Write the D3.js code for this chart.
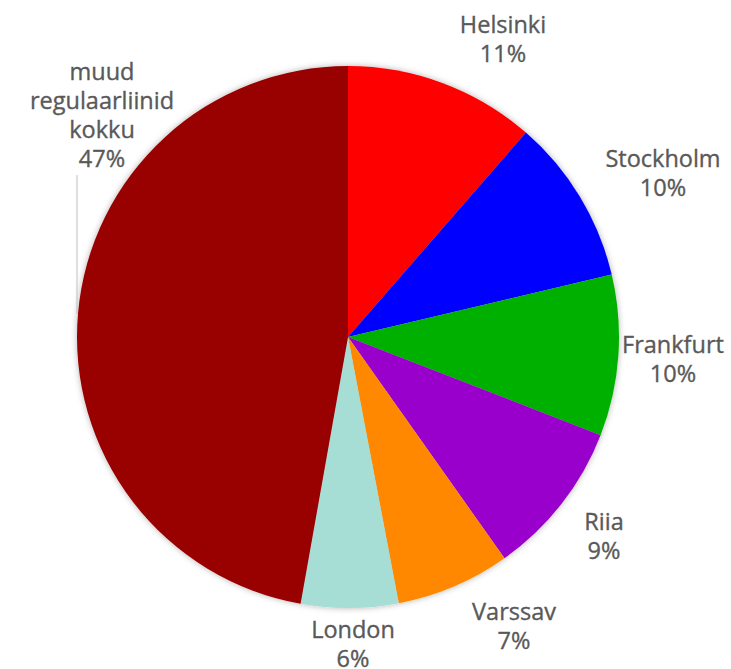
<!DOCTYPE html>
<html>
<head>
<meta charset="utf-8">
<script src="https://cdn.jsdelivr.net/npm/d3@7"></script>
<style>
  body { margin: 0; background: #fff; }
  svg text { font-family: "Open Sans", sans-serif; font-size: 23.5px; fill: #595959; stroke: #595959; stroke-width: 0.35px; }
</style>
</head>
<body>
<svg id="chart" width="731" height="669"></svg>
<script>
// slices clockwise from 12 o'clock
var cities = ["Helsinki", "Stockholm", "Frankfurt", "Riia", "Varssav", "London", "muud regulaarliinid kokku"];
var shares = [11.4, 9.9, 9.6, 9.3, 6.8, 5.8, 47.2];
var colors = ["#ff0000", "#0000ff", "#00b000", "#9900cc", "#ff8800", "#a6ddd5", "#990000"];

// label lines and where they sit
var labelLines = [["Helsinki"], ["Stockholm"], ["Frankfurt"], ["Riia"], ["Varssav"], ["London"], ["muud", "regulaarliinid", "kokku"]];
var labelPos = [[503, 33], [663, 167], [673, 353], [604, 530], [514, 620], [353, 638], [102, 80]];

var svg = d3.select("#chart");
var cx = 348, cy = 337, r = 271;

var defs = svg.append("defs");
defs.append("filter")
    .attr("id", "shadow")
    .attr("x", "-10%").attr("y", "-10%")
    .attr("width", "120%").attr("height", "120%")
  .append("feDropShadow")
    .attr("dx", 0).attr("dy", 0)
    .attr("stdDeviation", 3)
    .attr("flood-color", "#000")
    .attr("flood-opacity", 0.3);

var pie = d3.pie().sort(null).value(function(d){ return d; });
var arc = d3.arc().innerRadius(0).outerRadius(r);

var g = svg.append("g")
    .attr("transform", "translate(" + cx + "," + cy + ")")
    .attr("filter", "url(#shadow)");

g.selectAll("path")
    .data(pie(shares))
    .enter()
    .append("path")
    .attr("d", arc)
    .attr("fill", function(d, i){ return colors[i]; });

// leader line for the big slice
svg.append("line")
    .attr("x1", 77).attr("y1", 175)
    .attr("x2", 77).attr("y2", 314)
    .attr("stroke", "#bfbfbf")
    .attr("stroke-width", 1);

var lh = 29;
var labels = svg.selectAll("text.lbl")
    .data(cities)
    .enter()
    .append("text")
    .attr("class", "lbl")
    .attr("text-anchor", "middle");

labels.each(function(d, i){
    var t = d3.select(this);
    var lines = labelLines[i].concat([Math.round(shares[i]) + "%"]);
    lines.forEach(function(s, k){
        t.append("tspan")
            .attr("x", labelPos[i][0])
            .attr("y", labelPos[i][1] + k * lh)
            .text(s);
    });
});
</script>
</body>
</html>
